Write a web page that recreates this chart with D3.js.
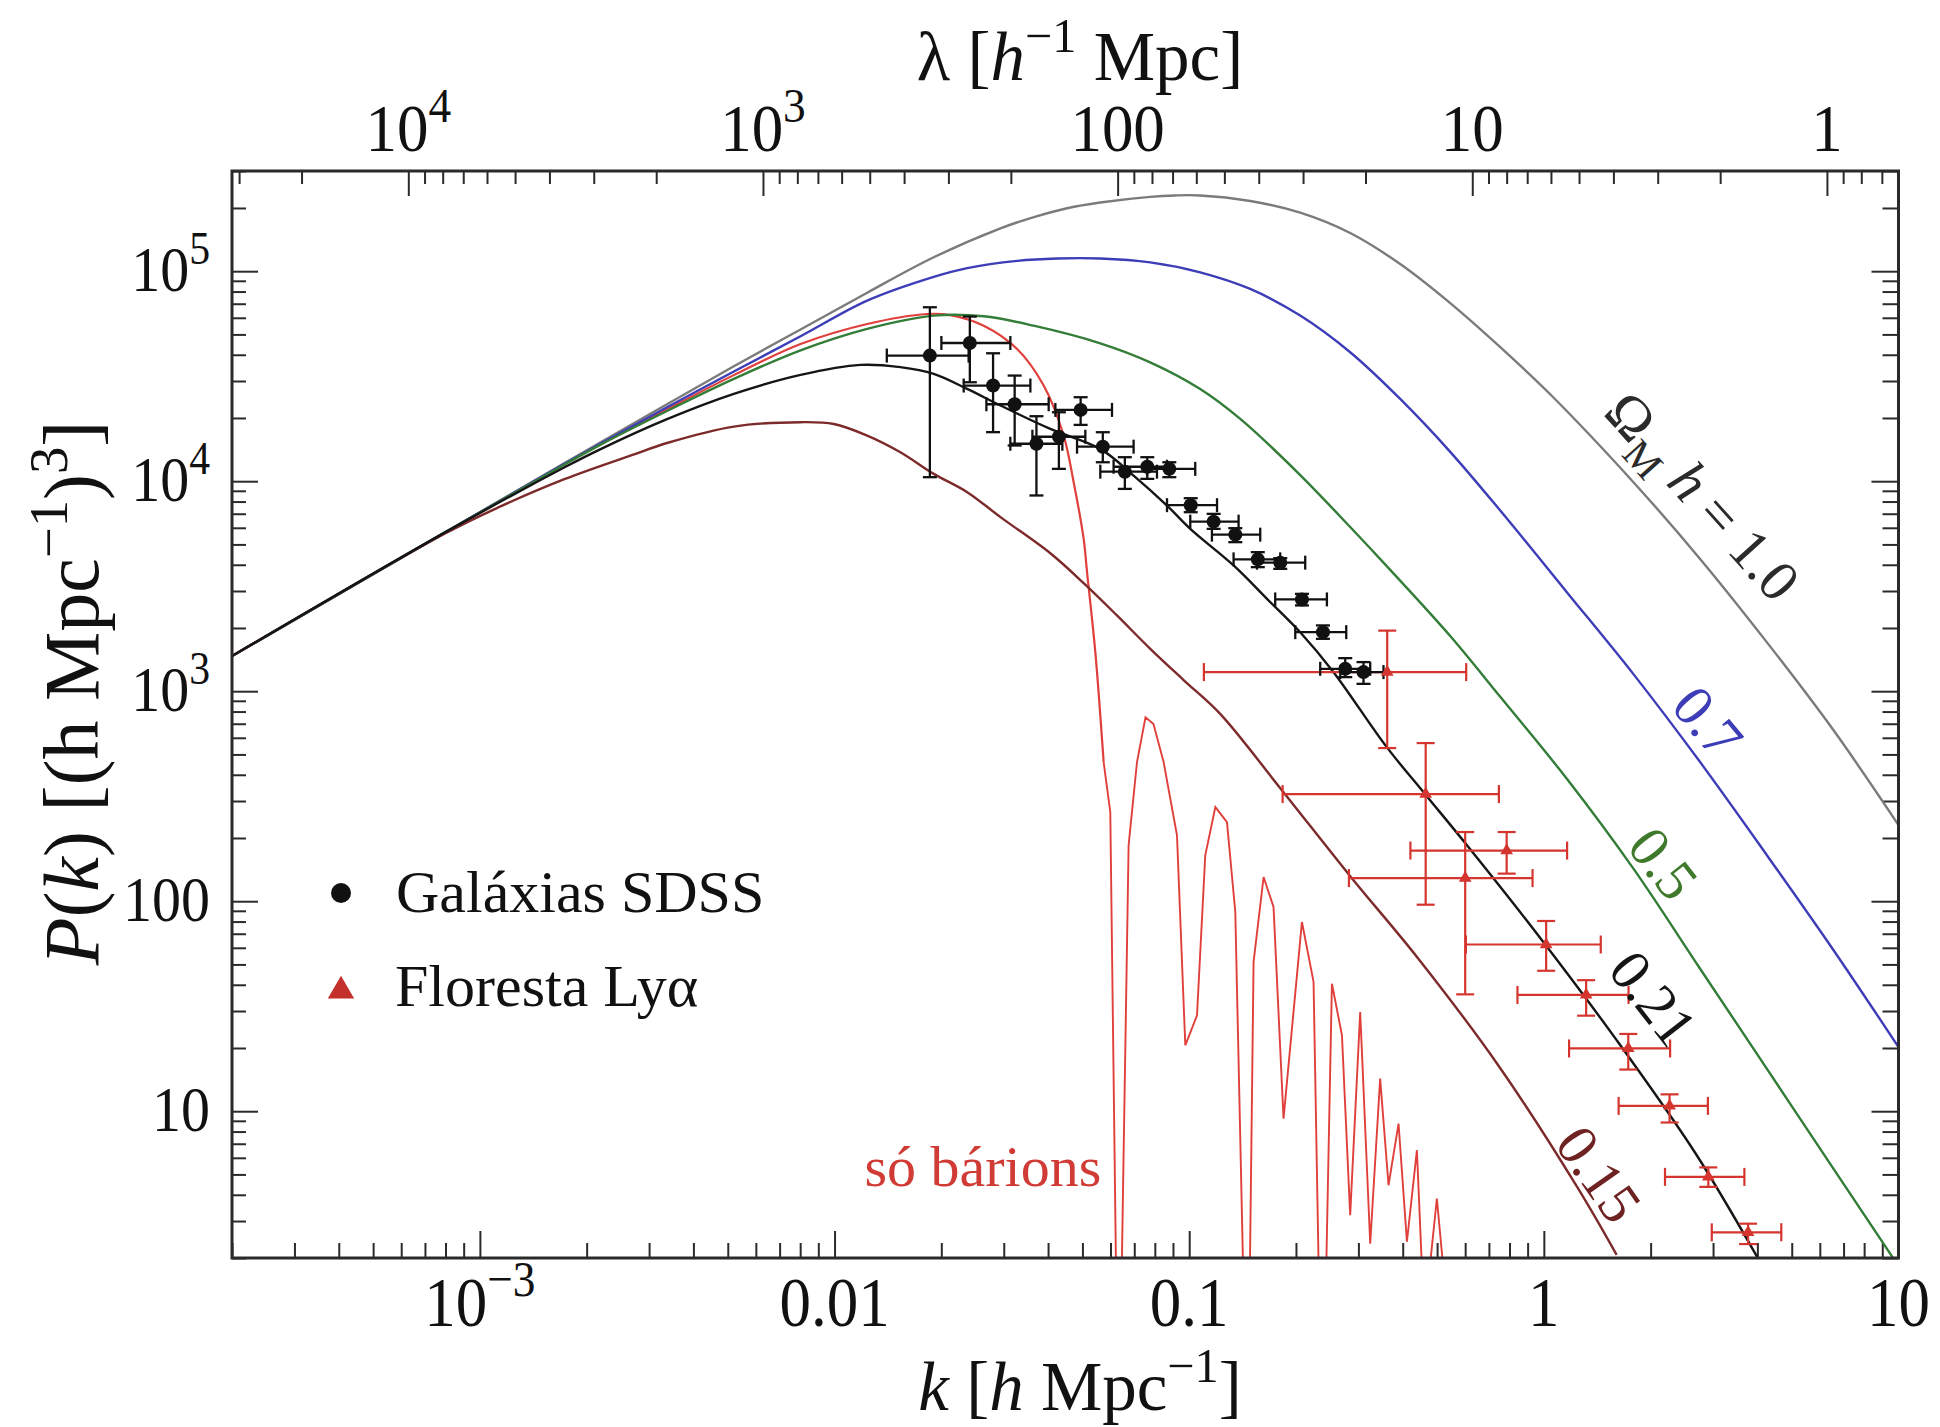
<!DOCTYPE html>
<html>
<head>
<meta charset="utf-8">
<script src="https://cdn.jsdelivr.net/npm/d3@7"></script>
<style>
  body { margin: 0; background: #fff; }
  svg { display: block; }
  text { font-family: "Liberation Serif", "Times New Roman", Times, serif; }
</style>
</head>
<body>
<svg id="chart" width="1940" height="1427" font-family="Liberation Serif, Times New Roman, serif"></svg>
<script>
// Matter power spectrum P(k) for several values of Omega_M h, plus data.
// Each curve: [k (h/Mpc), P(k) ((Mpc/h)^3)]
const curve10 = [[2e-4,1470],[8e-4,5720],[1.738e-3,12240],[2.19e-3,15320],[3.37e-3,23250],[5.20e-3,35250],[8.02e-3,52800],[0.01236,79000],[0.01904,116500],[0.02937,160000],[0.0365,181000],[0.04525,199500],[0.05613,212500],[0.07762,226000],[0.0912,229500],[0.1074,229500],[0.1486,216000],[0.2056,190000],[0.2844,152000],[0.3935,108200],[0.5445,70500],[0.7534,43500],[1.042,25940],[1.789,9892],[2.758,4266],[4.252,1713],[6.552,653],[10,230.5]];
const curve07 = [[2e-4,1470],[8e-4,5720],[1.738e-3,12150],[2.19e-3,15100],[3.37e-3,22500],[5.20e-3,33300],[8.02e-3,49000],[0.01236,72440],[0.01904,94000],[0.02366,103500],[0.03272,112000],[0.0424,115000],[0.05613,115000],[0.07762,110200],[0.1074,98800],[0.1486,82300],[0.2056,61470],[0.2844,41110],[0.3935,24640],[0.5445,13800],[0.7534,7250],[1.161,2963],[1.789,1206],[2.758,459.7],[4.252,165.9],[6.552,58.6],[10,20.2]];
const curve05 = [[2e-4,1470],[8e-4,5720],[1.738e-3,12050],[2.19e-3,14940],[3.37e-3,21600],[5.20e-3,30700],[8.02e-3,42000],[0.01236,53140],[0.01904,61470],[0.02634,61010],[0.03641,55030],[0.05613,45370],[0.07762,36830],[0.1074,27480],[0.1393,19800],[0.2056,10700],[0.2844,6050],[0.3688,3780],[0.5445,1830],[0.7534,940],[1.161,383],[1.789,142.9],[2.758,47.7],[4.252,15.95],[6.552,5.33],[10,1.83]];
const curve021 = [[2e-4,1470],[8e-4,5720],[1.738e-3,11680],[2.19e-3,14220],[3.37e-3,19740],[5.20e-3,26050],[8.02e-3,32070],[0.01183,35790],[0.01533,34910],[0.01904,32430],[0.02366,27500],[0.02937,22930],[0.04059,17740],[0.05613,14250],[0.0697,10640],[0.08658,7656],[0.1007,5929],[0.1334,3970],[0.1657,2754],[0.2056,1909],[0.2553,1232],[0.3593,546],[0.4658,318.9],[0.604,186.7],[0.9575,69.8],[1.604,21.8],[2.687,6.24],[4.045,1.95]];
const curve015 = [[2e-4,1470],[8e-4,5650],[1.127e-3,7500],[1.738e-3,10250],[2.68e-3,13300],[3.37e-3,15200],[5.20e-3,18200],[8.02e-3,19100],[9.95e-3,18730],[0.01236,16490],[0.01533,13740],[0.01904,10840],[0.02366,8870],[0.02937,6745],[0.04059,4538],[0.0504,3270],[0.06256,2295],[0.07768,1592],[0.09643,1130],[0.1221,781.7],[0.1797,349.2],[0.2856,130.5],[0.4422,53.4],[0.741,16.7],[1.24,4.37],[1.604,2.07]];
// baryons only: smooth rise, then the oscillating tail
const baryonRise = [[2e-4,1470],[8e-4,5720],[1.738e-3,12100],[2.19e-3,15000],[3.37e-3,22000],[5.20e-3,32000],[8.02e-3,45000],[0.01236,56050],[0.01824,62540],[0.02121,61820],[0.02634,55030],[0.03272,42630],[0.03888,28540],[0.04426,16490],[0.04723,9886],[0.0504,5312],[0.05152,3687],[0.05436,1536],[0.05738,460]];
const baryonTail = [[0.05738,460],[0.05991,266],[0.0632,0.2],[0.06748,184.6],[0.07126,460],[0.0753,752],[0.0793,698],[0.0847,460],[0.09238,206],[0.0975,20.6],[0.1052,28.6],[0.111,165.4],[0.1185,280.7],[0.1278,238],[0.1349,88.9],[0.146,0.2],[0.1519,51.4],[0.1621,130.4],[0.1729,93.8],[0.1845,9.22],[0.2079,79.6],[0.2242,41.3],[0.2372,0.2],[0.2526,40.5],[0.2696,23.0],[0.2844,3.2],[0.3035,29.7],[0.3239,2.34],[0.3455,14.3],[0.3648,4.44],[0.3893,8.73],[0.4111,2.39],[0.4386,6.52],[0.4599,1.0],[0.4993,3.84],[0.5375,1.0]];

// SDSS galaxies: k, P and error ranges
const sdssK    = [0.01857,0.02407,0.02799,0.03220,0.03709,0.04291,0.04942,0.05707,0.06585,0.07618,0.08790,0.1010,0.1172,0.1349,0.1561,0.1806,0.2079,0.2383,0.2754,0.3101];
const sdssKLo  = [0.01404,0.02001,0.02313,0.02680,0.03131,0.03613,0.04194,0.04828,0.05615,0.06121,0.07604,0.08658,0.1007,0.1159,0.1334,0.1553,0.1748,0.1991,0.2341,0.2667];
const sdssKHi  = [0.02388,0.03131,0.03566,0.04016,0.04389,0.05095,0.06058,0.06970,0.08112,0.08658,0.1040,0.1198,0.1378,0.1586,0.1806,0.2124,0.2445,0.2772,0.3239,0.3531];
const sdssP    = [39640,45520,28540,23250,15080,16280,21850,14600,11100,11720,11450,7688,6418,5565,4245,4094,2735,1911,1278,1233];
const sdssPLo  = [10450,29590,17120,14790,8551,11450,18540,12310,9192,10260,10450,7119,5929,5125,3897,3825,2561,1776,1167,1084];
const sdssPHi  = [67340,60810,40660,31840,20390,21300,25110,17110,13010,13010,12310,8299,6990,5974,4593,4300,2908,2057,1437,1376];

// Lyman-alpha forest
const lyaK    = [0.3617,0.4643,0.7855,0.6001,1.015,1.316,1.730,2.262,2.909,3.766];
const lyaKLo  = [0.1100,0.1834,0.4205,0.2821,0.6028,0.8425,1.178,1.625,2.196,2.975];
const lyaKHi  = [0.6040,0.7468,1.163,0.9293,1.447,1.733,2.270,2.901,3.677,4.672];
const lyaP    = [1233,323.7,174.3,128.9,62.21,35.78,19.90,10.60,4.868,2.650];
const lyaPLo  = [536.1,96.23,135.3,36.01,46.64,28.51,15.79,8.835,4.362,2.330];
const lyaPHi  = [1943,566.2,213.5,213.5,80.51,42.07,23.33,12.03,5.401,2.914];

const kTickLabels = [[1e-3,"10","\u22123"],[0.01,"0.01",null],[0.1,"0.1",null],[1,"1",null],[10,"10",null]];
const lambdaTickLabels = [[1e4,"10","4"],[1e3,"10","3"],[100,"100",null],[10,"10",null],[1,"1",null]];
const pTickLabels = [[1e5,"10","5"],[1e4,"10","4"],[1e3,"10","3"],[100,"100",null],[10,"10",null]];

// ---------------------------------------------------------------------------
const svg = d3.select("#chart");
const box = {left: 232, right: 1898.5, top: 171, bottom: 1258};
const x = d3.scaleLog().domain([2e-4, 10]).range([box.left, box.right]);
const y = d3.scaleLog().domain([2, 3e5]).range([box.bottom, box.top]);

svg.append("rect").attr("width", 1940).attr("height", 1427).attr("fill", "#fff");

svg.append("defs").append("clipPath").attr("id", "plotClip")
  .append("rect").attr("x", box.left).attr("y", box.top)
  .attr("width", box.right - box.left).attr("height", box.bottom - box.top);

function logValues(lo, hi) {
  const out = [];
  for (let e = Math.floor(Math.log10(lo)) - 1; e <= Math.ceil(Math.log10(hi)); e++) {
    for (let m = 1; m < 10; m++) {
      const v = m * Math.pow(10, e);
      if (v >= lo * 0.9999 && v <= hi * 1.0001) out.push({v, major: m === 1});
    }
  }
  return out;
}

const tickColor = "#2a2a2a";
function tickAxis(axisFn, scale, values, size, transform) {
  const g = svg.append("g").attr("transform", transform)
    .call(axisFn(scale).tickValues(values).tickSize(size).tickFormat(""));
  g.select(".domain").remove();
  g.selectAll(".tick line").attr("stroke", tickColor).attr("stroke-width", 2);
  return g;
}

// bottom k axis
const kVals = logValues(2e-4, 10);
tickAxis(d3.axisBottom, x, kVals.filter(d => d.major).map(d => d.v), -27, `translate(0,${box.bottom})`);
tickAxis(d3.axisBottom, x, kVals.filter(d => !d.major).map(d => d.v), -15, `translate(0,${box.bottom})`);

// top lambda axis, lambda = 2*pi/k
const xl = d3.scaleLog().domain([2 * Math.PI / 2e-4, 2 * Math.PI / 10]).range([box.left, box.right]);
const lVals = logValues(2 * Math.PI / 10, 2 * Math.PI / 2e-4);
tickAxis(d3.axisTop, xl, lVals.filter(d => d.major).map(d => d.v), -25, `translate(0,${box.top})`);
tickAxis(d3.axisTop, xl, lVals.filter(d => !d.major).map(d => d.v), -13, `translate(0,${box.top})`);

// left and right P axes
const pVals = logValues(2, 3e5);
tickAxis(d3.axisLeft, y, pVals.filter(d => d.major).map(d => d.v), -26, `translate(${box.left},0)`);
tickAxis(d3.axisLeft, y, pVals.filter(d => !d.major).map(d => d.v), -14, `translate(${box.left},0)`);
tickAxis(d3.axisRight, y, pVals.filter(d => d.major).map(d => d.v), -27, `translate(${box.right},0)`);
tickAxis(d3.axisRight, y, pVals.filter(d => !d.major).map(d => d.v), -16, `translate(${box.right},0)`);

// tick labels (slightly tall glyphs)
function powerLabel(sel, base, exp, size) {
  sel.append("tspan").text(base);
  if (exp) sel.append("tspan").attr("dy", -size * 0.42).attr("font-size", size * 0.72).text(exp);
}
function tallText(px, py, sy, size, anchor) {
  return svg.append("text").attr("transform", `translate(${px},${py}) scale(1,${sy})`)
    .attr("text-anchor", anchor).attr("font-size", size).attr("fill", "#111");
}
kTickLabels.forEach(([v, b, e]) => powerLabel(tallText(x(v), 1326, 1.12, 63, "middle"), b, e, 63));
lambdaTickLabels.forEach(([v, b, e]) => powerLabel(tallText(xl(v), 151, 1.08, 63, "middle"), b, e, 63));
pTickLabels.forEach(([v, b, e]) => powerLabel(tallText(210, y(v) + 20, 1.1, 58, "end"), b, e, 58));

// axis titles: runs of [text, italic, superscript]
function richText(t, runs, size) {
  let shift = 0;
  runs.forEach(([txt, italic, sup]) => {
    const target = sup ? -size * 0.4 : 0;
    const s = t.append("tspan").text(txt);
    if (target !== shift) { s.attr("dy", target - shift); shift = target; }
    if (sup) s.attr("font-size", size * 0.7);
    if (italic) s.attr("font-style", "italic");
  });
}
const titleFont = 69;
richText(svg.append("text").attr("x", 1080).attr("y", 80).attr("text-anchor", "middle")
  .attr("font-size", titleFont).attr("fill", "#111"),
  [["\u03bb [", false, false], ["h", true, false], ["\u22121", false, true], [" Mpc]", false, false]], titleFont);
richText(svg.append("text").attr("x", 1080).attr("y", 1410).attr("text-anchor", "middle")
  .attr("font-size", titleFont).attr("fill", "#111"),
  [["k", true, false], [" [", false, false], ["h", true, false], [" Mpc", false, false],
   ["\u22121", false, true], ["]", false, false]], titleFont);
const yFont = 78;
richText(svg.append("text").attr("transform", "translate(98,693) rotate(-90)").attr("text-anchor", "middle")
  .attr("font-size", yFont).attr("fill", "#111"),
  [["P", true, false], ["(", false, false], ["k", true, false], [") [(h Mpc", false, false],
   ["\u22121", false, true], [")", false, false], ["3", false, true], ["]", false, false]], yFont);

// curves
const plot = svg.append("g").attr("clip-path", "url(#plotClip)");
const smooth = d3.line().x(d => x(d[0])).y(d => y(d[1])).curve(d3.curveCatmullRom.alpha(0.5));
const straight = d3.line().x(d => x(d[0])).y(d => y(d[1]));
const curves = [
  {data: curve10, color: "#7b7b7b"},
  {data: curve07, color: "#3d3db8"},
  {data: curve05, color: "#337d38"},
  {data: curve015, color: "#7d2a2a"},
  {data: curve021, color: "#151515"}
];
plot.append("path").attr("d", smooth(baryonRise)).attr("fill", "none")
  .attr("stroke", "#e0403b").attr("stroke-width", 2.2);
plot.append("path").attr("d", straight(baryonTail)).attr("fill", "none")
  .attr("stroke", "#e0403b").attr("stroke-width", 1.9);
curves.forEach(c => {
  plot.append("path").attr("d", smooth(c.data)).attr("fill", "none")
    .attr("stroke", c.color).attr("stroke-width", 2.4);
});

// error bars and markers
function errorBars(g, ks, kl, kh, ps, pl, ph, color, cap, width) {
  ks.forEach((k, i) => {
    const cx = x(k), cy = y(ps[i]);
    const x0 = x(kl[i]), x1 = x(kh[i]), y0 = y(pl[i]), y1 = y(ph[i]);
    const a = g.append("g").attr("stroke", color).attr("stroke-width", width);
    a.append("line").attr("x1", x0).attr("x2", x1).attr("y1", cy).attr("y2", cy);
    a.append("line").attr("x1", cx).attr("x2", cx).attr("y1", y0).attr("y2", y1);
    a.append("line").attr("x1", x0).attr("x2", x0).attr("y1", cy - cap).attr("y2", cy + cap);
    a.append("line").attr("x1", x1).attr("x2", x1).attr("y1", cy - cap).attr("y2", cy + cap);
    a.append("line").attr("x1", cx - cap).attr("x2", cx + cap).attr("y1", y0).attr("y2", y0);
    a.append("line").attr("x1", cx - cap).attr("x2", cx + cap).attr("y1", y1).attr("y2", y1);
  });
}
const dataG = plot.append("g");
errorBars(dataG, lyaK, lyaKLo, lyaKHi, lyaP, lyaPLo, lyaPHi, "#d5352f", 9, 2.2);
errorBars(dataG, sdssK, sdssKLo, sdssKHi, sdssP, sdssPLo, sdssPHi, "#111", 7, 2.3);
dataG.selectAll("circle.sdss").data(sdssK).join("circle").attr("class", "sdss")
  .attr("cx", d => x(d)).attr("cy", (d, i) => y(sdssP[i])).attr("r", 7).attr("fill", "#111");
const tri = d3.symbol().type(d3.symbolTriangle).size(70);
dataG.selectAll("path.lya").data(lyaK).join("path").attr("class", "lya")
  .attr("d", tri).attr("transform", (d, i) => `translate(${x(d)},${y(lyaP[i])})`)
  .attr("fill", "#d5352f");

// frame
svg.append("rect").attr("x", box.left).attr("y", box.top)
  .attr("width", box.right - box.left).attr("height", box.bottom - box.top)
  .attr("fill", "none").attr("stroke", "#2a2a2a").attr("stroke-width", 3);

// curve labels
const labelFont = 58;
function curveLabel(k, p, angle, color, build) {
  const px = x(k), py = y(p);
  const t = svg.append("text").attr("x", px).attr("y", py)
    .attr("transform", `rotate(${angle},${px},${py})`)
    .attr("text-anchor", "middle").attr("font-size", labelFont).attr("fill", color);
  build(t);
}
curveLabel(2.551, 7360, 48, "#2b2b2b", t => {
  t.append("tspan").text("\u03a9");
  t.append("tspan").attr("dy", 14).attr("font-size", 41).text("M");
  t.append("tspan").attr("dy", -14).attr("font-style", "italic").text("\u00a0h");
  t.append("tspan").text(" = 1.0");
});
curveLabel(2.629, 620.9, 50, "#3d3db8", t => t.text("0.7"));
curveLabel(1.963, 132.4, 52, "#3f7a2c", t => t.text("0.5"));
curveLabel(1.839, 30.16, 52, "#151515", t => t.text("0.21"));
curveLabel(1.287, 4.43, 55, "#6e2222", t => t.text("0.15"));

svg.append("text").attr("x", x(0.0565)).attr("y", y(4.4)).attr("text-anchor", "end")
  .attr("font-size", 58).attr("fill", "#d13b35").text("s\u00f3 b\u00e1rions");

// legend
svg.append("circle").attr("cx", 341).attr("cy", 893).attr("r", 10).attr("fill", "#111");
svg.append("path").attr("d", d3.symbol().type(d3.symbolTriangle).size(300))
  .attr("transform", "translate(341,991)").attr("fill", "#c4302b");
svg.append("text").attr("x", 396).attr("y", 912).attr("font-size", 60).attr("fill", "#111")
  .text("Gal\u00e1xias SDSS");
svg.append("text").attr("x", 395).attr("y", 1006).attr("font-size", 60).attr("fill", "#111")
  .text("Floresta Ly\u03b1");
</script>
</body>
</html>
